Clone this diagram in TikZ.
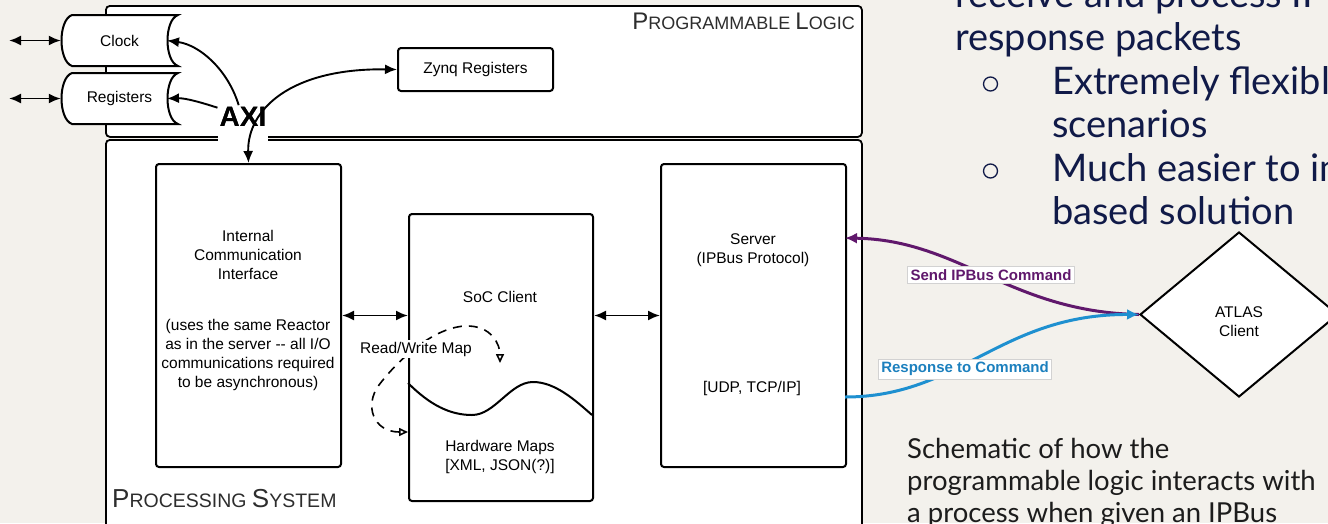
\documentclass[tikz,border=0pt]{standalone}
\usepackage{fontspec}
\setmainfont{Liberation Sans}
\newfontfamily\slidefont{Lato}
\usetikzlibrary{arrows.meta,shapes.geometric,calc}
\definecolor{slidebg}{RGB}{243,241,236}
\definecolor{navy}{RGB}{16,26,72}
\definecolor{cmdpurple}{RGB}{96,24,108}
\definecolor{respblue}{RGB}{30,144,208}
\definecolor{resptext}{RGB}{28,128,190}
\definecolor{titlegray}{RGB}{45,45,45}
\definecolor{captext}{RGB}{28,28,28}
\newcommand{\scbig}[2]{{\fontsize{#1}{#1}\selectfont #2}}
\tikzset{
  frame/.style={draw, line width=1.8pt, fill=white, rounded corners=4pt, anchor=north west, inner sep=0pt},
  box/.style={draw, line width=2pt, fill=white, rounded corners=3pt, anchor=north west, inner sep=0pt, font=\fontsize{15.5}{19}\selectfont},
  lbl/.style={font=\fontsize{15.5}{19}\selectfont, align=center, inner sep=0pt},
  stored/.style={draw, line width=2pt, fill=white},
  tipL/.tip={Latex[length=12pt,width=10pt]},
  arr/.style={line width=1.9pt, -tipL},
  darr/.style={line width=1.9pt, tipL-tipL},
  dasharr/.style={line width=1.6pt, dash pattern=on 9pt off 7pt, {Triangle[open,length=9pt,width=8pt]}-{Triangle[open,length=9pt,width=8pt]}},
  cmdline/.style={line width=3pt, draw=cmdpurple, -{Latex[length=12pt,width=11pt]}},
  respline/.style={line width=3pt, draw=respblue, -{Latex[length=12pt,width=11pt]}},
  tag/.style={draw=gray!35, line width=0.8pt, fill=white, font=\fontsize{15}{15}\selectfont\bfseries, inner xsep=3pt, inner ysep=3pt},
  slide/.style={font=\slidefont\fontsize{38}{38}\selectfont, text=navy, anchor=base west, inner sep=0pt},
  caption/.style={font=\slidefont\fontsize{27.5}{27.5}\selectfont, text=captext, anchor=base west, inner sep=0pt},
}
\begin{document}
\begin{tikzpicture}[x=1pt,y=-1pt]
\fill[slidebg] (0,0) rectangle (1328,523);
\useasboundingbox (0,0) rectangle (1328,523);
\begin{scope}
\clip (0,0) rectangle (1328,523);

% frames
\node[frame, minimum width=756pt, minimum height=131pt] (pl) at (105,5) {};
\node[frame, minimum width=756pt, minimum height=400pt] (ps) at (105,139) {};
\fill[white] (218,128) rectangle (268,147);

\node[anchor=base east, inner sep=0pt, text=titlegray] (pltitle) at (855,29)
  {\scbig{24}{P}\scbig{18}{ROGRAMMABLE }\scbig{24}{L}\scbig{18}{OGIC}};
\node[anchor=base west, inner sep=0pt, text=titlegray] (pstitle) at (112,507)
  {\scbig{26}{P}\scbig{19.5}{ROCESSING }\scbig{26}{S}\scbig{19.5}{YSTEM}};

% stored-data shapes
\filldraw[stored] (72,15) -- (178,15) .. controls (164,20) and (164,61) .. (178,66)
  -- (72,66) .. controls (58,61) and (58,20) .. (72,15) -- cycle;
\filldraw[stored] (72,73) -- (178,73) .. controls (164,78) and (164,119) .. (178,124)
  -- (72,124) .. controls (58,119) and (58,78) .. (72,73) -- cycle;
\node[lbl, minimum width=117pt, minimum height=51pt] (clock) at (119.5,40.5) {Clock};
\node[lbl, minimum width=117pt, minimum height=51pt] (regs) at (119.5,98.5) {Registers};

\coordinate (clkext) at (9,40.5);
\coordinate (regext) at (9,98.5);
\coordinate (clkin) at (167,40.5);
\coordinate (regin) at (167,98.5);

% boxes
\node[box, minimum width=155pt, minimum height=43pt] (zynq) at (397,47) {Zynq Registers};
\node[box, minimum width=185pt, minimum height=303pt] (ici) at (155,163) {};
\node[box, minimum width=184pt, minimum height=287pt] (soc) at (408,213) {};
\node[box, minimum width=185pt, minimum height=303pt] (server) at (660,163) {};

\node[lbl] (icitop) at (248,255) {Internal\\Communication\\Interface};
\node[lbl] (icibot) at (248,355) {(uses the same Reactor\\as in the server -{}- all I/O\\communications required\\to be asynchronous)};
\node[lbl] (soctxt) at (500,297) {SoC Client};
\node[lbl] (hwtxt) at (500,457) {Hardware Maps\\{}[XML, JSON(?)]};
\node[lbl] (srvtop) at (753,250) {Server\\(IPBus Protocol)};
\node[lbl] (srvbot) at (752,388) {[UDP, TCP/IP]};

% wave in SoC client
\draw[line width=2pt] (408,383) .. controls (430,405) and (450,415) .. (472,415)
  .. controls (495,415) and (510,382) .. (533,382)
  .. controls (555,382) and (575,400) .. (592,415);

% AXI connectors
\node[inner sep=2pt, font=\fontsize{28}{28}\selectfont\bfseries] (axi) at (243,117) {AXI};
\draw[darr] (clkext) -- (clock.west);
\draw[darr] (regext) -- (regs.west);
\draw[arr] (axi.110) .. controls (228,70) and (200,45) .. (clkin);
\draw[arr] (axi.160) .. controls (200,102) and (185,98) .. (regin);
\draw[darr] (ici.north) .. controls (247,110) and (290,68) .. (zynq.west);
\node[inner sep=2pt, font=\fontsize{28}{28}\selectfont\bfseries] at (axi) {AXI};

% box to box
\draw[darr] (ici.east) -- (ici.east -| soc.west);
\draw[darr] (soc.east |- server.west) -- (server.west);

% read/write map
\coordinate (hwin) at (408,432);
\coordinate (mapin) at (500,363);
\draw[dasharr] (hwin) .. controls (373,432) and (364,405) .. (379,385)
  .. controls (394,365) and (430,328) .. (465,326)
  .. controls (492,325) and (500,345) .. (mapin);
\node[lbl, fill=white, inner xsep=1pt, inner ysep=2pt] (rwmap) at (416,349) {Read/Write Map};

% ATLAS client
\node[draw, line width=2pt, fill=white, shape=diamond, minimum width=198pt, minimum height=165pt, inner sep=0pt] (atlas) at (1239,314.5) {};
\node[lbl] (atlastxt) at (1239,322) {ATLAS\\Client};

\coordinate (srvin) at (845,238);
\coordinate (srvout) at (845,397);
\draw[cmdline] (atlas.west) .. controls (1010,312) and (960,240) .. (srvin);
\draw[respline] (srvout) .. controls (960,397) and (1000,314) .. (atlas.west);
\node[tag, text=cmdpurple] (sendlbl) at (991,275) {Send IPBus Command};
\node[tag, text=resptext] (resplbl) at (965,369) {Response to Command};

% slide text
\node[slide] (t1) at (955,7) {receive and process IP};
\node[slide] (t2) at (955,50) {response packets};
\draw[navy, line width=1.3pt] (990.5,84) circle (7);
\node[slide] (t3) at (1052,94) {Extremely flexible};
\node[slide] (t4) at (1052,137) {scenarios};
\draw[navy, line width=1.3pt] (990.5,171) circle (7);
\node[slide] (t5) at (1052,181) {Much easier to im};
\node[slide] (t6) at (1052,224) {based solution};

\node[caption] (c1) at (907,458) {Schematic of how the};
\node[caption] (c2) at (907,490) {programmable logic interacts with};
\node[caption] (c3) at (907,522) {a process when given an IPBus};
\end{scope}
\end{tikzpicture}
\end{document}
